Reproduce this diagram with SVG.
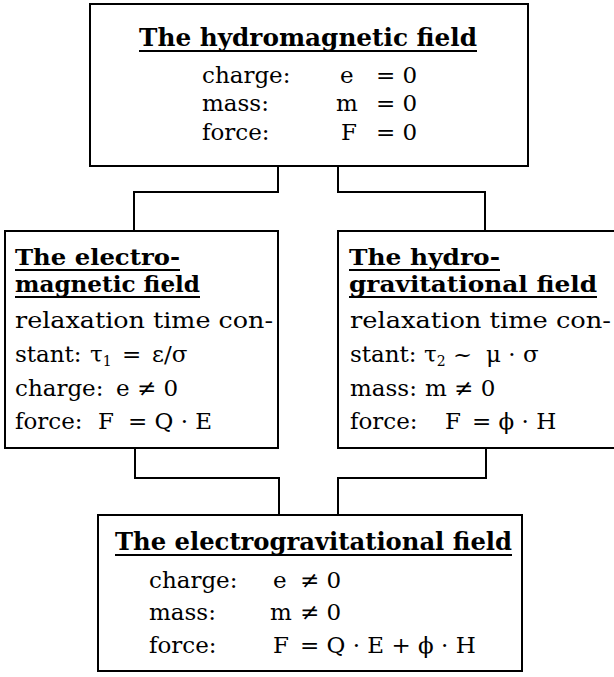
<svg xmlns="http://www.w3.org/2000/svg" width="614" height="677" viewBox="0 0 614 677">
<style>
.box{fill:#fff;stroke:#000;stroke-width:2}
.conn{fill:none;stroke:#000;stroke-width:2}
.ul{stroke:#000;stroke-width:2}
.t{font-family:"DejaVu Serif","Liberation Serif",serif;font-weight:bold;font-size:24px;fill:#000}
.t2{font-size:22px}
.b{font-family:"DejaVu Serif","Liberation Serif",serif;font-size:23px;fill:#000}
.s{font-size:14px}
</style>
<rect x="0" y="0" width="614" height="677" fill="#fff"/>
<g id="connectors">
<path class="conn" d="M278,166 V192 H134 V231"/>
<path class="conn" d="M338,166 V192 H485 V231"/>
<path class="conn" d="M135,448 V478 H279 V515"/>
<path class="conn" d="M486,448 V478 H338 V515"/>
</g>
<g id="hydromagnetic">
<rect class="box" x="90" y="4" width="438" height="162"/>
<text class="t" x="139" y="46" textLength="338" lengthAdjust="spacingAndGlyphs">The hydromagnetic field</text>
<line class="ul" x1="139" y1="51" x2="477" y2="51"/>
<text class="b" x="202" y="83">charge:</text><text class="b" x="340" y="83">e</text><text class="b" x="376" y="83">= 0</text>
<text class="b" x="202" y="111">mass:</text><text class="b" x="336" y="111">m</text><text class="b" x="376" y="111">= 0</text>
<text class="b" x="202" y="140">force:</text><text class="b" x="341" y="140">F</text><text class="b" x="376" y="140">= 0</text>
</g>
<g id="electromagnetic">
<rect class="box" x="5" y="231" width="273" height="217"/>
<text class="t t2" x="15" y="265" textLength="165" lengthAdjust="spacingAndGlyphs">The electro-</text>
<line class="ul" x1="15" y1="270" x2="180" y2="270"/>
<text class="t t2" x="15" y="292" textLength="185" lengthAdjust="spacingAndGlyphs">magnetic field</text>
<line class="ul" x1="15" y1="297" x2="200" y2="297"/>
<text class="b" x="15" y="328" textLength="258" lengthAdjust="spacingAndGlyphs">relaxation time con-</text>
<text class="b" x="15" y="362">stant:</text><text class="b" x="90" y="362">τ<tspan class="s" dy="4">1</tspan></text><text class="b" x="122" y="362">=</text><text class="b" x="152" y="362">ε/σ</text>
<text class="b" x="15" y="396">charge:</text><text class="b" x="116" y="396">e ≠ 0</text>
<text class="b" x="15" y="429">force:</text><text class="b" x="98" y="429">F</text><text class="b" x="128" y="429">= Q · E</text>
</g>
<g id="hydrogravitational">
<rect class="box" x="338" y="231" width="280" height="217"/>
<text class="t t2" x="349" y="265" textLength="151" lengthAdjust="spacingAndGlyphs">The hydro-</text>
<line class="ul" x1="349" y1="270" x2="500" y2="270"/>
<text class="t t2" x="349" y="292" textLength="248" lengthAdjust="spacingAndGlyphs">gravitational field</text>
<line class="ul" x1="349" y1="297" x2="597" y2="297"/>
<text class="b" x="350" y="328" textLength="261" lengthAdjust="spacingAndGlyphs">relaxation time con-</text>
<text class="b" x="350" y="362">stant:</text><text class="b" x="424" y="362">τ<tspan class="s" dy="4">2</tspan><tspan dy="-4"> ~</tspan></text><text class="b" x="486" y="362">μ · σ</text>
<text class="b" x="350" y="396">mass:</text><text class="b" x="425" y="396">m ≠ 0</text>
<text class="b" x="350" y="429">force:</text><text class="b" x="445" y="429">F</text><text class="b" x="472" y="429">= ϕ · H</text>
</g>
<g id="electrogravitational">
<rect class="box" x="98" y="515" width="424" height="156"/>
<text class="t" x="115" y="550" textLength="397" lengthAdjust="spacingAndGlyphs">The electrogravitational field</text>
<line class="ul" x1="115" y1="555" x2="512" y2="555"/>
<text class="b" x="149" y="588">charge:</text><text class="b" x="273" y="588">e</text><text class="b" x="300" y="588">≠ 0</text>
<text class="b" x="149" y="620">mass:</text><text class="b" x="270" y="620">m</text><text class="b" x="300" y="620">≠ 0</text>
<text class="b" x="149" y="653">force:</text><text class="b" x="273" y="653">F</text><text class="b" x="300" y="653">= Q · E + ϕ · H</text>
</g>
</svg>
